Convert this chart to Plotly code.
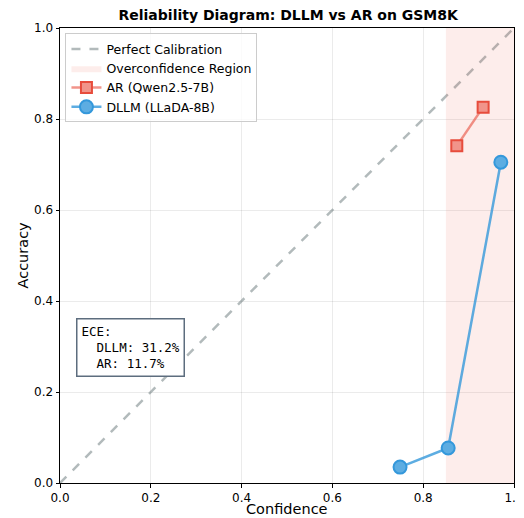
import plotly.graph_objects as go

dllm_conf = [0.749, 0.855, 0.971]
dllm_acc = [0.035, 0.077, 0.705]
ar_conf = [0.874, 0.932]
ar_acc = [0.741, 0.826]
region_x = [0.85, 1.0]
diag = [0.0, 1.0]
ticks = [0.0, 0.2, 0.4, 0.6, 0.8, 1.0]
tick_labels = ["0.0", "0.2", "0.4", "0.6", "0.8", "1.0"]
ece_dllm = 31.2
ece_ar = 11.7

fig = go.Figure()
fig.add_trace(go.Scatter(x=diag, y=diag, mode="lines", name="Perfect Calibration",
                         line=dict(color="rgba(127,140,141,0.6)", width=2.5, dash="dash")))
fig.add_trace(go.Scatter(x=[region_x[0], region_x[1], region_x[1], region_x[0], region_x[0]],
                         y=[0, 0, 1, 1, 0], mode="lines", fill="toself",
                         fillcolor="rgba(231,76,60,0.1)", line=dict(width=0),
                         name="Overconfidence Region", hoverinfo="skip"))
fig.add_trace(go.Scatter(x=ar_conf, y=ar_acc, mode="lines+markers", name="AR (Qwen2.5-7B)",
                         line=dict(color="rgba(231,76,60,0.6)", width=2.5),
                         marker=dict(symbol="square", size=11, color="rgba(241,148,138,1)",
                                     line=dict(color="#E74C3C", width=2))))
fig.add_trace(go.Scatter(x=dllm_conf, y=dllm_acc, mode="lines+markers", name="DLLM (LLaDA-8B)",
                         line=dict(color="rgba(52,152,219,0.8)", width=2.5),
                         marker=dict(symbol="circle", size=13, color="#5DADE2",
                                     line=dict(color="#3498DB", width=2))))

fig.add_annotation(x=0.035, y=0.363, xref="x", yref="y", xanchor="left", yanchor="top",
                   text=f"ECE:<br>  DLLM: {ece_dllm}%<br>  AR: {ece_ar}%",
                   showarrow=False, align="left",
                   font=dict(family="DejaVu Sans Mono", size=12.5, color="black"),
                   bgcolor="white", bordercolor="#5D6D7E", borderwidth=1.5, borderpad=4)

fig.add_annotation(x=0.5, y=-0.058, xref="paper", yref="paper", xanchor="center", yanchor="middle",
                   text="Confidence", showarrow=False, font=dict(size=14.5, color="black"))
fig.add_annotation(x=-0.0837, y=0.5, xref="paper", yref="paper", xanchor="center", yanchor="middle",
                   text="Accuracy", showarrow=False, textangle=-90, font=dict(size=14.5, color="black"))

axis_common = dict(range=[0, 1], tickvals=ticks, ticktext=tick_labels, showgrid=True,
                   gridcolor="rgba(0,0,0,0.08)", gridwidth=1, zeroline=False,
                   showline=True, linecolor="black", linewidth=1, mirror=True,
                   ticks="outside", ticklen=3.5, tickcolor="black", automargin=False,
                   tickfont=dict(size=12, color="black"))
fig.update_xaxes(**axis_common)
fig.update_yaxes(**axis_common)

fig.update_layout(
    width=516, height=510,
    margin=dict(l=52, r=10, t=20, b=35, autoexpand=False),
    plot_bgcolor="white", paper_bgcolor="white",
    font=dict(family="DejaVu Sans", color="black"),
    title=dict(text="<b>Reliability Diagram: DLLM vs AR on GSM8K</b>", x=0.543, xanchor="center",
               y=0.986, yanchor="middle", font=dict(size=14)),
    legend=dict(x=0.012, y=0.988, xanchor="left", yanchor="top", bgcolor="rgba(255,255,255,0.8)",
                bordercolor="#CCCCCC", borderwidth=1, font=dict(size=12.5),
                tracegroupgap=0, itemwidth=30),
    showlegend=True,
)

fig.write_html("out.html")
